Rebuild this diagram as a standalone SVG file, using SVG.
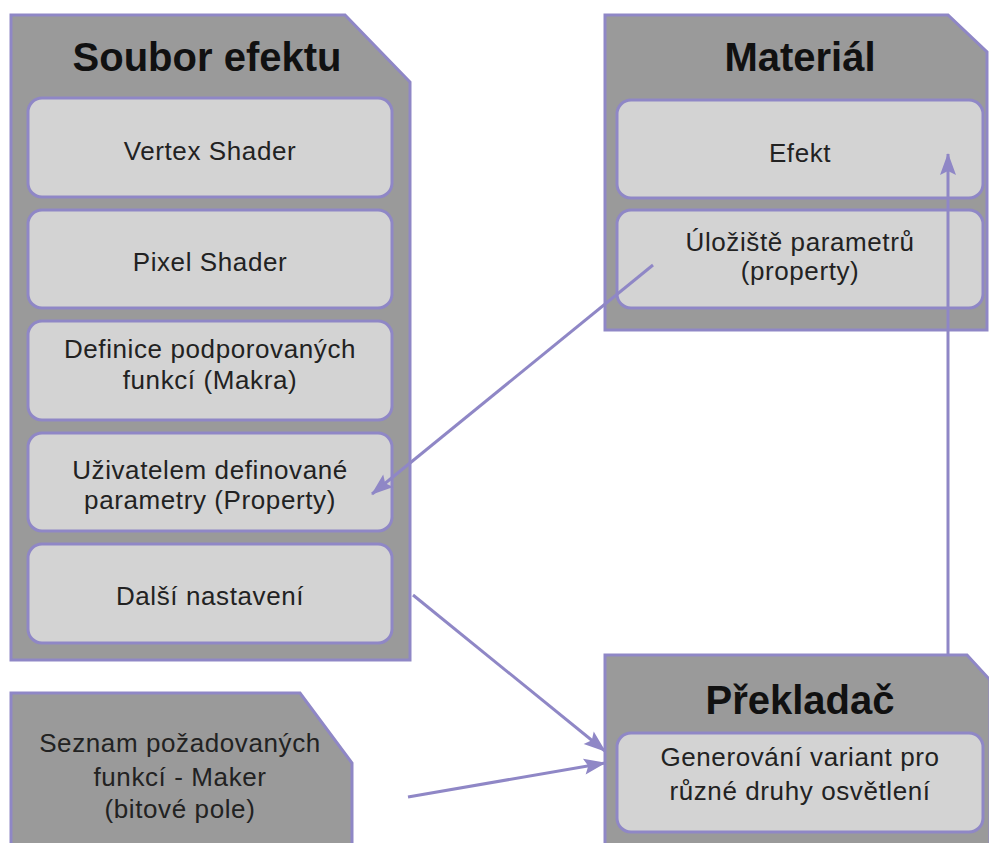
<svg xmlns="http://www.w3.org/2000/svg" width="989" height="843" viewBox="0 0 989 843">
<defs>
<style>
.outer{fill:#9a9a9a;stroke:#8f87c6;stroke-width:3}
.inner{fill:#d3d3d3;stroke:#8f87c6;stroke-width:3}
.title{font-family:"Liberation Sans",Arial,sans-serif;font-weight:bold;font-size:40px;fill:#111;text-anchor:middle}
.t{font-family:"Liberation Sans",Arial,sans-serif;font-size:26px;letter-spacing:0.6px;fill:#222;text-anchor:middle}
.conn{stroke:#8f87c6;stroke-width:3;fill:none}
</style>
<marker id="ah" viewBox="0 0 22 16" refX="21" refY="8" markerWidth="22" markerHeight="16" markerUnits="userSpaceOnUse" orient="auto" overflow="visible">
<path d="M0,0 L22,8 L0,16 L4,8 z" fill="#8f87c6"/>
</marker>
</defs>
<rect width="989" height="843" fill="#fff"/>
<g id="soubor">
<path class="outer" d="M11,15 H345 L410,82 V660 H11 Z"/>
<text class="title" x="207" y="71">Soubor efektu</text>
<rect class="inner" x="28" y="98" width="364" height="99" rx="14"/>
<text class="t" x="210" y="160">Vertex Shader</text>
<rect class="inner" x="28" y="210" width="364" height="98" rx="14"/>
<text class="t" x="210" y="271">Pixel Shader</text>
<rect class="inner" x="28" y="321" width="364" height="99" rx="14"/>
<text class="t" x="210" y="358">Definice podporovaných</text>
<text class="t" x="210" y="389">funkcí (Makra)</text>
<rect class="inner" x="28" y="433" width="364" height="98" rx="14"/>
<text class="t" x="210" y="479">Uživatelem definované</text>
<text class="t" x="210" y="509">parametry (Property)</text>
<rect class="inner" x="28" y="544" width="364" height="99" rx="14"/>
<text class="t" x="210" y="605">Další nastavení</text>
</g>
<g id="material">
<path class="outer" d="M605,15 H948 L987,52 V330 H605 Z"/>
<text class="title" x="800" y="71">Materiál</text>
<rect class="inner" x="617" y="100" width="366" height="98" rx="14"/>
<text class="t" x="800" y="162">Efekt</text>
<rect class="inner" x="617" y="210" width="366" height="98" rx="14"/>
<text class="t" x="800" y="251">Úložiště parametrů</text>
<text class="t" x="800" y="280">(property)</text>
</g>
<g id="seznam">
<path class="outer" d="M11,693 H300 L352,763 V850 H11 Z"/>
<text class="t" x="180" y="752">Seznam požadovaných</text>
<text class="t" x="180" y="786">funkcí - Maker</text>
<text class="t" x="180" y="818">(bitové pole)</text>
</g>
<g id="prekladac">
<path class="outer" d="M605,655 H967 L990,680 V850 H605 Z"/>
<text class="title" x="800" y="714">Překladač</text>
<rect class="inner" x="617" y="733" width="366" height="99" rx="14"/>
<text class="t" x="800" y="766">Generování variant pro</text>
<text class="t" x="800" y="800">různé druhy osvětlení</text>
</g>
<g id="connectors">
<line class="conn" x1="653" y1="265" x2="372" y2="494" marker-end="url(#ah)"/>
<line class="conn" x1="413" y1="595" x2="605" y2="751" marker-end="url(#ah)"/>
<line class="conn" x1="408" y1="797" x2="605" y2="763" marker-end="url(#ah)"/>
<line class="conn" x1="948" y1="655" x2="948" y2="154" marker-end="url(#ah)"/>
</g>
</svg>
